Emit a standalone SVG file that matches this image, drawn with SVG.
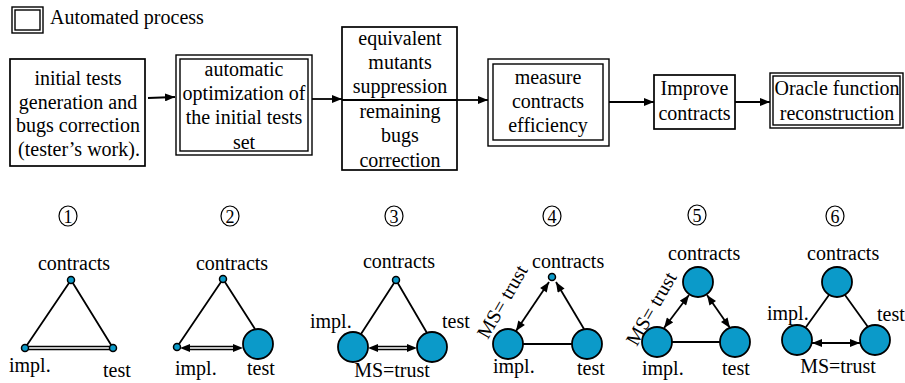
<svg xmlns="http://www.w3.org/2000/svg" width="905" height="383" viewBox="0 0 905 383" font-family="'Liberation Serif', 'Times New Roman', serif" font-size="20">
<style>
text{font-family:'Liberation Serif','Times New Roman',serif;font-size:20px;fill:#000}
.c{text-anchor:middle}
.box{fill:#fff;stroke:#000;stroke-width:1.7}
.dbl{fill:none;stroke:#000;stroke-width:1.4}
.ln{fill:none;stroke:#000;stroke-width:1.8}
.ln2{fill:none;stroke:#000;stroke-width:1.3}
.big{fill:#0b9ac9;stroke:#000;stroke-width:1.8}
.dot{fill:#0b9ac9;stroke:#000;stroke-width:1.5}
.num{fill:none;stroke:#000;stroke-width:1.2}
.nt{font-size:18px;text-anchor:middle}
</style>
<defs>
<marker id="ah" viewBox="0 0 10 8" refX="10" refY="4" markerWidth="10" markerHeight="8" markerUnits="userSpaceOnUse" orient="auto-start-reverse"><path d="M0,0 L10,4 L0,8 z" fill="#000"/></marker>
<marker id="as" viewBox="0 0 10 8" refX="10" refY="4" markerWidth="11" markerHeight="8" markerUnits="userSpaceOnUse" orient="auto-start-reverse"><path d="M0,0 L10,4 L0,8 z" fill="#000"/></marker>
</defs>
<g id="legend">
<rect class="dbl" x="12" y="7" width="31" height="26"/>
<rect class="dbl" x="15" y="10" width="25" height="20"/>
<text x="50" y="24">Automated process</text>
</g>
<g id="box1">
<rect class="box" x="10" y="59" width="135" height="107"/>
<text class="c" x="78" y="85">initial tests</text>
<text class="c" x="78" y="108.5">generation and</text>
<text class="c" x="78" y="132">bugs correction</text>
<text class="c" x="79" y="155.5">(tester’s work).</text>
</g>
<g id="box2">
<rect class="dbl" x="176" y="55" width="136" height="100" fill="#fff"/>
<rect class="dbl" x="180" y="59" width="128" height="92"/>
<text class="c" x="244" y="76">automatic</text>
<text class="c" x="244" y="100">optimization of</text>
<text class="c" x="244" y="124">the initial tests</text>
<text class="c" x="244" y="149">set</text>
</g>
<g id="box3">
<rect class="box" x="342" y="27" width="115" height="143"/>
<text class="c" x="400" y="45">equivalent</text>
<text class="c" x="400" y="69">mutants</text>
<text class="c" x="400" y="93">suppression</text>
<text class="c" x="400" y="118">remaining</text>
<text class="c" x="400" y="142">bugs</text>
<text class="c" x="400" y="167">correction</text>
</g>
<g id="box4">
<rect class="dbl" x="488" y="59" width="121" height="87" fill="#fff"/>
<rect class="dbl" x="493" y="64" width="110" height="76"/>
<text class="c" x="548" y="84">measure</text>
<text class="c" x="548" y="108">contracts</text>
<text class="c" x="548" y="132">efficiency</text>
</g>
<g id="box5">
<rect class="box" x="654" y="75" width="81" height="54"/>
<text class="c" x="694.5" y="95">Improve</text>
<text class="c" x="694.5" y="120">contracts</text>
</g>
<g id="box6">
<rect class="dbl" x="770" y="73" width="133" height="55" fill="#fff"/>
<rect class="dbl" x="773" y="76" width="127" height="49"/>
<text class="c" x="837" y="95">Oracle function</text>
<text class="c" x="837" y="120">reconstruction</text>
</g>
<g id="connectors">
<path class="ln" d="M148,98 L175,97" marker-end="url(#ah)"/>
<path class="ln" d="M312,99 L342,99" marker-end="url(#ah)"/>
<path class="ln" d="M342,100 L457,100"/>
<path class="ln" d="M457,100 L488,100" marker-end="url(#ah)"/>
<path class="ln" d="M609,102 L654,102" marker-end="url(#ah)"/>
<path class="ln" d="M735,102 L770,102" marker-end="url(#ah)"/>
<path class="ln" d="M71,280 L25,348 M71,280 L113,348"/>
<path class="ln2" d="M25,346.5 L113,346.5 M25,349.5 L113,349.5"/>
<path class="ln" d="M223,279 L177,347 M223,279 L255,329"/>
<path class="ln2" d="M188,346.5 L234,346.5 M188,349.5 L234,349.5"/>
<path d="M180,348 L243,348" stroke="none" fill="none" marker-start="url(#as)" marker-end="url(#as)"/>
<path class="ln" d="M396,280 L361,334 M396,280 L427,333"/>
<path class="ln2" d="M376,346.5 L409,346.5 M376,349.5 L409,349.5"/>
<path d="M368,348 L417,348" stroke="none" fill="none" marker-start="url(#as)" marker-end="url(#as)"/>
<path class="ln" d="M523,344 L572,344"/>
<path class="ln" d="M516,331 L549,282" marker-start="url(#as)" marker-end="url(#as)"/>
<path class="ln" d="M584,329 L556,282" marker-end="url(#as)"/>
<path class="ln" d="M672,342 L720,342"/>
<path class="ln" d="M664,328 L689,295" marker-start="url(#as)" marker-end="url(#as)"/>
<path class="ln" d="M730,328 L707,295" marker-start="url(#as)" marker-end="url(#as)"/>
<path class="ln" d="M829,295 L806,327 M845,295 L868,327"/>
<path class="ln" d="M812,343 L860,343" marker-start="url(#as)" marker-end="url(#as)"/>
</g>
<g id="graph1">
<ellipse class="num" cx="68" cy="216" rx="9" ry="10"/><text class="nt" x="68" y="222.5">1</text>
<circle class="dot" cx="71" cy="280" r="3.5"/>
<circle class="dot" cx="25" cy="348" r="3.5"/>
<circle class="dot" cx="113" cy="348" r="3.5"/>
<text class="c" x="74" y="270">contracts</text>
<text x="9" y="372">impl.</text>
<text x="103" y="377">test</text>
</g>
<g id="graph2">
<ellipse class="num" cx="230" cy="216" rx="9" ry="10"/><text class="nt" x="230" y="222.5">2</text>
<circle class="dot" cx="223" cy="279" r="3.5"/>
<circle class="dot" cx="177" cy="347" r="3.5"/>
<circle class="big" cx="258" cy="344" r="15"/>
<text class="c" x="232" y="270">contracts</text>
<text x="175" y="375">impl.</text>
<text x="247" y="375">test</text>
</g>
<g id="graph3">
<ellipse class="num" cx="394" cy="216" rx="9" ry="10"/><text class="nt" x="394" y="222.5">3</text>
<circle class="dot" cx="396" cy="280" r="3.5"/>
<circle class="big" cx="353" cy="347" r="15"/>
<circle class="big" cx="432" cy="347" r="15"/>
<text class="c" x="399" y="268">contracts</text>
<text x="310" y="328">impl.</text>
<text x="442" y="328">test</text>
<text class="c" x="392" y="377">MS=trust</text>
</g>
<g id="graph4">
<ellipse class="num" cx="552" cy="216" rx="9" ry="10"/><text class="nt" x="552" y="222.5">4</text>
<circle class="dot" cx="552" cy="277" r="3.5"/>
<circle class="big" cx="508" cy="344" r="15"/>
<circle class="big" cx="587" cy="344" r="15"/>
<text x="532" y="268">contracts</text>
<text x="493" y="373">impl.</text>
<text x="577" y="375">test</text>
<text class="c" transform="translate(508,305) rotate(-60)">MS= trust</text>
</g>
<g id="graph5">
<ellipse class="num" cx="697" cy="215" rx="9" ry="10"/><text class="nt" x="697" y="221.5">5</text>
<circle class="big" cx="698" cy="282" r="15"/>
<circle class="big" cx="657" cy="342" r="15"/>
<circle class="big" cx="735" cy="342" r="15"/>
<text x="668" y="260">contracts</text>
<text x="642" y="375">impl.</text>
<text x="722" y="375">test</text>
<text class="c" transform="translate(657,312) rotate(-60)">MS= trust</text>
</g>
<g id="graph6">
<ellipse class="num" cx="835" cy="216" rx="9" ry="10"/><text class="nt" x="835" y="222.5">6</text>
<circle class="big" cx="837" cy="282" r="15"/>
<circle class="big" cx="797" cy="340" r="15"/>
<circle class="big" cx="875" cy="340" r="15"/>
<text x="807" y="260">contracts</text>
<text x="767" y="320">impl.</text>
<text x="877" y="321">test</text>
<text class="c" x="838" y="373">MS=trust</text>
</g>
</svg>
